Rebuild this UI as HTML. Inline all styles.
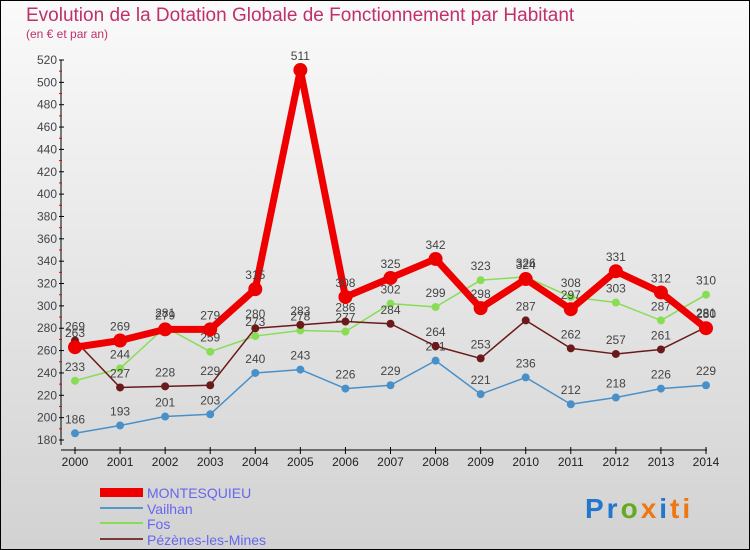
<!DOCTYPE html>
<html><head><meta charset="utf-8"><style>
body{margin:0}
#c{width:750px;height:550px;position:relative;box-sizing:border-box;border:1px solid #000;background:linear-gradient(#fafafa,#d2d2d2);font-family:"Liberation Sans",sans-serif;overflow:hidden}
</style></head><body>
<div id="c">
<svg width="748" height="548" viewBox="1 1 748 548" id="s">
<text x="26" y="21" font-size="19" fill="#c0306a">Evolution de la Dotation Globale de Fonctionnement par Habitant</text>
<text x="26" y="38" font-size="12" fill="#c0306a">(en € et par an)</text>
<g id="axes"></g><g id="series"></g>
<g>
<rect x="100" y="488" width="43" height="9" fill="#ee0000"/>
<text x="147" y="498" font-size="14" fill="#6666ee">MONTESQUIEU</text>
<rect x="100" y="507" width="43" height="2" fill="#5599cc"/>
<text x="147" y="514" font-size="14" fill="#6666ee">Vailhan</text>
<rect x="100" y="522" width="43" height="2" fill="#88dd55"/>
<text x="147" y="529" font-size="14" fill="#6666ee">Fos</text>
<rect x="100" y="538" width="43" height="2" fill="#7a3a3a"/>
<text x="147" y="545" font-size="14" fill="#6666ee">Pézènes-les-Mines</text>
</g>
<text x="585" y="518" font-size="28" font-weight="bold" letter-spacing="3"><tspan fill="#2277cc">Pr</tspan><tspan fill="#66aa22">o</tspan><tspan fill="#ee7711">x</tspan><tspan fill="#2277cc">i</tspan><tspan fill="#ee7711">ti</tspan></text>
</svg>
</div>
<script>
const years=[2000,2001,2002,2003,2004,2005,2006,2007,2008,2009,2010,2011,2012,2013,2014];
const montesquieu=[263,269,279,279,315,511,308,325,342,298,324,297,331,312,280];
const vailhan=[186,193,201,203,240,243,226,229,251,221,236,212,218,226,229];
const fos=[233,244,281,259,273,278,277,302,299,323,326,308,303,287,310];
const pezenes=[269,227,228,229,280,283,286,284,264,253,287,262,257,261,281];
const yTicks=[180,200,220,240,260,280,300,320,340,360,380,400,420,440,460,480,500,520];
const NS="http://www.w3.org/2000/svg";
const X=i=>75+i*(631/14);
const Y=v=>440-(v-180)*(380/340);
function el(t,a,p){const e=document.createElementNS(NS,t);for(const k in a)e.setAttribute(k,a[k]);p.appendChild(e);return e;}
const ax=document.getElementById('axes');
const yl=el('line',{x1:61,y1:60,x2:61,y2:445,stroke:'#000'},ax);


const xl=el('line',{x1:61,y1:450,x2:707,y2:450,stroke:'#000'},ax);


yTicks.forEach((v,i)=>{
 el('line',{x1:59,x2:64,y1:Y(v),y2:Y(v),stroke:'#000'},ax);
 if(i<yTicks.length-1)el('line',{x1:59,x2:62,y1:Y(v+10),y2:Y(v+10),stroke:'#e00'},ax);
 const t=el('text',{x:57,y:Y(v)+4,'font-size':12,fill:'#444','text-anchor':'end'},ax);
 t.textContent=v;
 
 
});
years.forEach((y,i)=>{
 el('line',{x1:X(i),x2:X(i),y1:447,y2:454,stroke:'#000'},ax);
 const t=el('text',{x:X(i),y:466,'font-size':12,fill:'#222','text-anchor':'middle'},ax);
 t.textContent=y;
 
 
});
const sg=document.getElementById('series');
function draw(vals,color,w,r,name){
 const g=el('g',{},sg);
 
 
 el('polyline',{points:vals.map((v,i)=>X(i)+','+Y(v)).join(' '),fill:'none',stroke:color,'stroke-width':w,'stroke-linejoin':'round'},g);
 vals.forEach((v,i)=>{
  const c=el('circle',{cx:X(i),cy:Y(v),r:r,fill:color},g);
  
  
  const t=el('text',{x:X(i),y:Y(v)-10,'font-size':12,fill:'#444','text-anchor':'middle'},g);
  t.textContent=v;
  
  
 });
}
draw(vailhan,'#4a90c8',1.5,4,'vailhan');
draw(fos,'#88dd55',1.5,4,'fos');
draw(pezenes,'#6a1a1a',1.5,4,'pezenes');
draw(montesquieu,'#ee0000',7,7,'montesquieu');
</script>
</body></html>
